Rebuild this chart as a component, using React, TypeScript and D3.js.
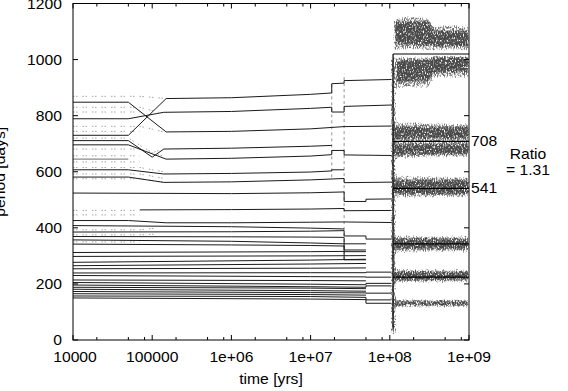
import React, { useEffect, useRef } from "react";
import * as d3 from "d3";

type Pt = [number, number];
type BandPt = [number, number, number];

// axes
const xTicks = [1e4, 1e5, 1e6, 1e7, 1e8, 1e9];
const xTickLabels = ["10000", "100000", "1e+06", "1e+07", "1e+08", "1e+09"];
const xMinorFactors = [2, 5, 8];
const yTicks = [0, 200, 400, 600, 800, 1000, 1200];

// planet tracks: [time (yrs), period (days)]
const crossingTracks: Pt[][] = [
  [[1e4, 848], [5e4, 848], [1.5e5, 742], [1e6, 744], [1e7, 753], [1.85e7, 758], [2.65e7, 761], [1.05e8, 763]],
  [[1e4, 789], [5e4, 789], [1.4e5, 812], [1e6, 815], [1e7, 826], [1.85e7, 830], [1.85e7, 813], [2.65e7, 813], [2.65e7, 833], [1.05e8, 838]],
  [[1e4, 730], [5e4, 730], [1.5e5, 861], [1e6, 864], [1e7, 876], [1.85e7, 881], [1.85e7, 914], [2.65e7, 916], [2.65e7, 925], [1.05e8, 929]],
  [[1e4, 711], [5e4, 711], [1e5, 652], [1.4e5, 681], [1e6, 684], [1e7, 691], [1.85e7, 694]],
  [[1e4, 696], [5e4, 696], [1.5e5, 645], [1e6, 648], [1e7, 656], [1.85e7, 661], [1.85e7, 676], [2.65e7, 676], [2.65e7, 660], [1.05e8, 658]],
  [[1e4, 607], [5e4, 607], [1.4e5, 592], [1e6, 594], [1e7, 599], [1.85e7, 603], [1.85e7, 607], [2.65e7, 607]],
  [[1e4, 581], [5e4, 581], [1.4e5, 562], [1e6, 564], [1e7, 571], [2.65e7, 576], [2.65e7, 561], [1.05e8, 563]],
  [[1e4, 524], [1e6, 522], [1e7, 525], [2.65e7, 528], [2.65e7, 494], [5e7, 494], [5e7, 502], [1.05e8, 503]],
];

const midTracks: Pt[][] = [
  [[7e4, 464], [1e6, 465], [1e7, 467], [2.65e7, 469], [2.65e7, 461], [1.05e8, 462]],
  [[1e4, 426], [5e4, 426], [1.5e5, 418], [1e6, 418], [1e7, 420], [2.65e7, 421], [1.05e8, 419]],
  [[1e4, 408], [1e6, 404], [1e7, 399], [2.65e7, 396]],
  [[1e4, 385], [1e6, 386], [1e7, 388], [2.65e7, 390], [2.65e7, 371], [5e7, 371], [5e7, 360], [1.05e8, 360]],
  [[1e4, 369], [1e6, 368], [1e7, 367], [2.65e7, 366], [2.65e7, 343], [5e7, 343]],
  [[1e4, 357], [1e6, 352], [1e7, 346], [2.65e7, 343], [2.65e7, 321], [5e7, 321]],
  [[1e4, 342], [1e6, 339], [1e7, 337], [2.65e7, 335], [2.65e7, 315], [5e7, 315]],
];

const lowerTracks: Pt[][] = [
  [[1e4, 312], [1e7, 315], [2.65e7, 316], [2.65e7, 286], [5e7, 286]],
  [[1e4, 298], [1e7, 300], [5e7, 301]],
  [[1e4, 277], [1e7, 285], [5e7, 288]],
  [[1e4, 265], [1e7, 271], [5e7, 273]],
  [[1e4, 254], [1e7, 256], [5e7, 257]],
  [[1e4, 239], [1e7, 240], [5e7, 240], [5e7, 242], [1.05e8, 242]],
  [[1e4, 230], [1e7, 226], [5e7, 225], [5e7, 224], [1.05e8, 224]],
  [[1e4, 214], [1e7, 212], [5e7, 211]],
  [[1e4, 205], [1e7, 199], [5e7, 197], [5e7, 202], [1.05e8, 202]],
  [[1e4, 196], [1e7, 190], [5e7, 188], [5e7, 193], [1.05e8, 193]],
  [[1e4, 188], [1e7, 185], [5e7, 183]],
  [[1e4, 181], [1e7, 176], [5e7, 174]],
  [[1e4, 173], [1e7, 169], [5e7, 168], [5e7, 167], [1.05e8, 167]],
  [[1e4, 165], [1e7, 162], [5e7, 160]],
  [[1e4, 157], [1e7, 155], [5e7, 152], [5e7, 143], [1.05e8, 143]],
  [[1e4, 150], [1e7, 146], [5e7, 144], [5e7, 131], [1.05e8, 131]],
];

const shortGrayTracks: Pt[][] = [
  [[1e4, 645], [5e4, 645]],
];

const dashedTracks: Pt[][] = [
  [[1e4, 869], [7e4, 869], [1.4e5, 862]],
  [[1e4, 830], [7e4, 830], [1.2e5, 812]],
  [[1e4, 813], [7e4, 813]],
  [[1e4, 762], [7e4, 762], [1.4e5, 742]],
  [[1e4, 744], [7e4, 744]],
  [[1e4, 720], [5e4, 720], [1e5, 668], [1.4e5, 681]],
  [[1e4, 681], [7e4, 681], [1.4e5, 655]],
  [[1e4, 657], [7e4, 657]],
  [[1e4, 635], [7e4, 635]],
  [[1e4, 615], [7e4, 615], [1.4e5, 600]],
  [[1e4, 592], [7e4, 592], [1.5e5, 575]],
  [[1e4, 575], [7e4, 575], [1.5e5, 562]],
  [[1e4, 462], [7e4, 462]],
  [[1e4, 446], [7e4, 446]],
  [[1e4, 393], [7e4, 393], [1.2e5, 400]],
  [[1e4, 375], [7e4, 375], [1.2e5, 378]],
  [[1e4, 350], [7e4, 350]],
];

// vertical dashed markers at instabilities: [time, low period, high period]
const stepMarkers: BandPt[] = [
  [1.85e7, 580, 921],
  [2.65e7, 285, 950],
];

// final stable planets after 1.1e8 yrs
const finalStart = 1.1e8;
const finalPeriods = [1020, 708, 541, 343, 224];
const collapseLine: BandPt = [1.1e8, 40, 1020];

// scatter envelopes: [time, low, high]
const sparseBands: BandPt[][] = [
  [[1.1e8, 1028, 1152], [2e8, 1032, 1158], [3.2e8, 1028, 1150], [3.6e8, 1030, 1122], [6e8, 1030, 1128], [1e9, 1030, 1122]],
  [[1.1e8, 893, 1014], [3.2e8, 898, 1014], [3.6e8, 932, 1016], [1e9, 932, 1016]],
  [[1.1e8, 644, 782], [1e9, 650, 774]],
  [[1.1e8, 503, 588], [1e9, 506, 586]],
  [[1.1e8, 308, 376], [1e9, 310, 374]],
  [[1.1e8, 201, 257], [1e9, 203, 255]],
  [[1.1e8, 112, 150], [1e9, 114, 148]],
  [[1.01e8, 15, 1010], [1.21e8, 15, 1010]],
];

const denseBands: BandPt[][] = [
  [[1.15e8, 1050, 1140], [3.2e8, 1045, 1140], [3.6e8, 1042, 1108], [1e9, 1042, 1106]],
  [[1.2e8, 915, 1005], [3.2e8, 922, 1005], [3.6e8, 950, 1014], [1e9, 950, 1014]],
  [[1.1e8, 714, 766], [1e9, 714, 764]],
  [[1.1e8, 656, 703], [1e9, 657, 703]],
  [[1.1e8, 515, 576], [1e9, 515, 576]],
  [[1.1e8, 320, 366], [1e9, 320, 366]],
  [[1.1e8, 209, 249], [1e9, 209, 249]],
  [[1.1e8, 119, 144], [1e9, 119, 144]],
  [[1.06e8, 40, 1000], [1.14e8, 40, 1000]],
];

const sideLabels = [
  { period: 708, text: "708" },
  { period: 541, text: "541" },
];

const App: React.FC = () => {
  const svgRef = useRef<SVGSVGElement | null>(null);

  useEffect(() => {
    if (!svgRef.current) return;
    const svg = d3.select(svgRef.current);
    svg.selectAll("*").remove();

    const left = 73;
    const right = 469;
    const top = 3.5;
    const bottom = 340;
    const font = "'Liberation Sans', Arial, Helvetica, sans-serif";

    const x = d3.scaleLog().domain([1e4, 1e9]).range([left, right]);
    const y = d3.scaleLinear().domain([0, 1200]).range([bottom, top]);

    const defs = svg.append("defs");
    defs
      .append("clipPath")
      .attr("id", "plotClip")
      .append("rect")
      .attr("x", left)
      .attr("y", top)
      .attr("width", right - left)
      .attr("height", bottom - top);

    // speckled, soft-edged fill for the scatter clouds
    const makeSpeckle = (id: string, seed: number, color: string, slope: number, cut: number) => {
      const f = defs
        .append("filter")
        .attr("id", id)
        .attr("filterUnits", "userSpaceOnUse")
        .attr("x", 0)
        .attr("y", 0)
        .attr("width", 568)
        .attr("height", 391);
      f.append("feTurbulence")
        .attr("type", "fractalNoise")
        .attr("baseFrequency", "0.9 0.45")
        .attr("numOctaves", 2)
        .attr("seed", seed)
        .attr("result", "noise");
      f.append("feColorMatrix")
        .attr("in", "noise")
        .attr("type", "matrix")
        .attr("values", "0 0 0 0 0  0 0 0 0 0  0 0 0 0 0  1 0 0 0 0")
        .attr("result", "nA");
      f.append("feGaussianBlur")
        .attr("in", "SourceAlpha")
        .attr("stdDeviation", "1.2 2.2")
        .attr("result", "soft");
      f.append("feComposite")
        .attr("in", "nA")
        .attr("in2", "soft")
        .attr("operator", "arithmetic")
        .attr("k1", 1)
        .attr("k2", 0)
        .attr("k3", 0)
        .attr("k4", 0)
        .attr("result", "prod");
      const ct = f.append("feComponentTransfer").attr("in", "prod").attr("result", "mask");
      ct.append("feFuncA").attr("type", "linear").attr("slope", slope).attr("intercept", cut);
      f.append("feFlood").attr("flood-color", color).attr("result", "ink");
      f.append("feComposite").attr("in", "ink").attr("in2", "mask").attr("operator", "in");
    };
    makeSpeckle("sparse", 3, "#707070", 4.5, -1.75);
    makeSpeckle("dense", 7, "#4a4a4a", 4.5, -1.3);

    const plot = svg.append("g").attr("clip-path", "url(#plotClip)");

    const line = d3
      .line<Pt>()
      .x((d) => x(d[0]))
      .y((d) => y(d[1]));

    const area = d3
      .area<BandPt>()
      .x((d) => x(d[0]))
      .y0((d) => y(d[1]))
      .y1((d) => y(d[2]));

    // scatter clouds
    plot
      .append("g")
      .attr("filter", "url(#sparse)")
      .selectAll("path")
      .data(sparseBands)
      .enter()
      .append("path")
      .attr("d", (d) => area(d) || "")
      .attr("fill", "#000");

    plot
      .append("g")
      .attr("filter", "url(#dense)")
      .selectAll("path")
      .data(denseBands)
      .enter()
      .append("path")
      .attr("d", (d) => area(d) || "")
      .attr("fill", "#000");

    // dashed gray tracks
    plot
      .append("g")
      .selectAll("path")
      .data(dashedTracks)
      .enter()
      .append("path")
      .attr("d", (d) => line(d) || "")
      .attr("fill", "none")
      .attr("stroke", "#a5a5a5")
      .attr("stroke-width", 1)
      .attr("stroke-dasharray", "1.5,1.5,1.5,5");

    plot
      .append("g")
      .selectAll("line")
      .data(stepMarkers)
      .enter()
      .append("line")
      .attr("x1", (d) => x(d[0]))
      .attr("x2", (d) => x(d[0]))
      .attr("y1", (d) => y(d[1]))
      .attr("y2", (d) => y(d[2]))
      .attr("stroke", "#777")
      .attr("stroke-width", 0.8)
      .attr("stroke-dasharray", "3,3");

    plot
      .append("g")
      .selectAll("path")
      .data(shortGrayTracks)
      .enter()
      .append("path")
      .attr("d", (d) => line(d) || "")
      .attr("fill", "none")
      .attr("stroke", "#888")
      .attr("stroke-width", 1.2);

    // solid tracks
    plot
      .append("g")
      .selectAll("path")
      .data([...crossingTracks, ...midTracks, ...lowerTracks])
      .enter()
      .append("path")
      .attr("d", (d) => line(d) || "")
      .attr("fill", "none")
      .attr("stroke", "#1a1a1a")
      .attr("stroke-width", 1);

    // collapse at ~1.1e8
    plot
      .append("line")
      .attr("x1", x(collapseLine[0]))
      .attr("x2", x(collapseLine[0]))
      .attr("y1", y(collapseLine[1]))
      .attr("y2", y(collapseLine[2]))
      .attr("stroke", "#222")
      .attr("stroke-width", 1.4);

    plot
      .append("g")
      .selectAll("line")
      .data(finalPeriods)
      .enter()
      .append("line")
      .attr("x1", x(finalStart))
      .attr("x2", x(1e9))
      .attr("y1", (d) => y(d))
      .attr("y2", (d) => y(d))
      .attr("stroke", "#000")
      .attr("stroke-width", 1.2);

    // frame
    svg
      .append("rect")
      .attr("x", left)
      .attr("y", top)
      .attr("width", right - left)
      .attr("height", bottom - top)
      .attr("fill", "none")
      .attr("stroke", "#000")
      .attr("stroke-width", 1);

    const ticks = svg.append("g").attr("stroke", "#000").attr("stroke-width", 1);
    const minor: number[] = [];
    xTicks.slice(0, -1).forEach((t) => xMinorFactors.forEach((f) => minor.push(t * f)));
    xTicks.forEach((t) => {
      ticks.append("line").attr("x1", x(t)).attr("x2", x(t)).attr("y1", bottom).attr("y2", bottom - 5);
      ticks.append("line").attr("x1", x(t)).attr("x2", x(t)).attr("y1", top).attr("y2", top + 5);
    });
    minor.forEach((t) => {
      ticks.append("line").attr("x1", x(t)).attr("x2", x(t)).attr("y1", bottom).attr("y2", bottom - 3);
      ticks.append("line").attr("x1", x(t)).attr("x2", x(t)).attr("y1", top).attr("y2", top + 3);
    });
    yTicks.forEach((v) => {
      ticks.append("line").attr("x1", left).attr("x2", left + 5).attr("y1", y(v)).attr("y2", y(v));
      ticks.append("line").attr("x1", right).attr("x2", right - 5).attr("y1", y(v)).attr("y2", y(v));
    });

    const text = svg
      .append("g")
      .attr("font-family", font)
      .attr("font-size", 14)
      .attr("fill", "#000");

    // the source font is a little wider than it is tall
    const addText = (tx: number, ty: number, s: string, anchor: string, rotate = 0) =>
      text
        .append("text")
        .attr("transform", `translate(${tx},${ty}) rotate(${rotate}) scale(1.12,1)`)
        .attr("text-anchor", anchor)
        .text(s);

    xTicks.forEach((t, i) => addText(x(t) + (i === 0 ? 2 : 0), 362, xTickLabels[i], "middle"));
    yTicks.forEach((v) => addText(62, y(v) + 5, String(v), "end"));

    addText(271, 384, "time [yrs]", "middle");
    addText(5, (top + bottom) / 2, "period [days]", "middle", -90);

    sideLabels.forEach((s) => addText(471, y(s.period) + 5, s.text, "start"));
    addText(528, 159, "Ratio", "middle");
    addText(528, 175, "= 1.31", "middle");
  }, []);

  return (
    <svg
      ref={svgRef}
      width={568}
      height={391}
      style={{ position: "absolute", left: 0, top: 0, background: "#fff" }}
    ></svg>
  );
};

export default App;
